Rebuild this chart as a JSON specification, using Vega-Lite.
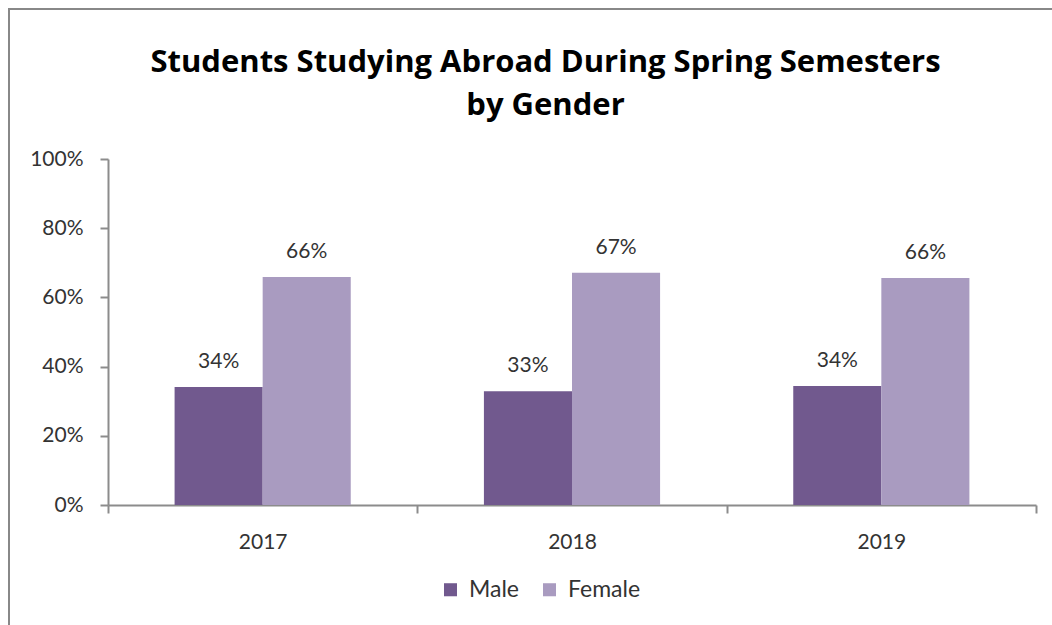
{
  "$schema": "https://vega.github.io/schema/vega-lite/v6.json",
  "autosize": "none",
  "width": 1053,
  "height": 626,
  "padding": {"left": 9, "top": 9, "right": -10, "bottom": -10},
  "background": "white",
  "title": {
    "text": ["Students Studying Abroad During Spring Semesters", "by Gender"],
    "font": "Open Sans",
    "fontSize": 31,
    "fontWeight": "bold",
    "color": "#000000",
    "lineHeight": 43,
    "anchor": "middle",
    "frame": "group",
    "dx": 10,
    "offset": -113
  },
  "data": {
    "values": [
      {"year": "2017", "gender": "Male", "share": 0.341},
      {"year": "2017", "gender": "Female", "share": 0.659},
      {"year": "2018", "gender": "Male", "share": 0.329},
      {"year": "2018", "gender": "Female", "share": 0.671},
      {"year": "2019", "gender": "Male", "share": 0.344},
      {"year": "2019", "gender": "Female", "share": 0.656}
    ]
  },
  "encoding": {
    "x": {
      "field": "year",
      "type": "nominal",
      "scale": {"range": [99, 1027], "paddingInner": 0, "paddingOuter": 0},
      "axis": {
        "title": null,
        "labelAngle": 0,
        "tickBand": "extent",
        "offset": -130,
        "labelFont": "Lato",
        "labelFontSize": 21,
        "labelColor": "#333333",
        "labelPadding": 18,
        "tickSize": 8,
        "tickColor": "#8c8c8c",
        "tickWidth": 2,
        "domainColor": "#8c8c8c",
        "domainWidth": 2
      }
    },
    "xOffset": {
      "field": "gender",
      "type": "nominal",
      "sort": ["Male", "Female"],
      "scale": {"paddingInner": 0, "paddingOuter": 0.756}
    },
    "y": {
      "field": "share",
      "type": "quantitative",
      "scale": {"domain": [0, 1], "range": [496, 150], "nice": false},
      "axis": {
        "title": null,
        "values": [0, 0.2, 0.4, 0.6, 0.8, 1],
        "format": ".0%",
        "grid": false,
        "offset": -99,
        "labelFont": "Lato",
        "labelFontSize": 21,
        "labelColor": "#333333",
        "labelPadding": 17,
        "tickSize": 8,
        "tickColor": "#8c8c8c",
        "tickWidth": 2,
        "domainColor": "#8c8c8c",
        "domainWidth": 2
      }
    }
  },
  "layer": [
    {
      "mark": {"type": "bar"},
      "encoding": {
        "color": {
          "field": "gender",
          "type": "nominal",
          "sort": ["Male", "Female"],
          "scale": {"domain": ["Male", "Female"], "range": ["#71598E", "#A99BC0"]},
          "legend": {
            "title": null,
            "orient": "none",
            "direction": "horizontal",
            "legendX": 430,
            "legendY": 569,
            "padding": 0,
            "symbolType": "square",
            "symbolSize": 170,
            "symbolStrokeWidth": 0,
            "labelFont": "Lato",
            "labelFontSize": 23,
            "labelColor": "#333333",
            "labelOffset": 7,
            "columnPadding": 18
          }
        }
      }
    },
    {
      "mark": {"type": "text", "baseline": "bottom", "dy": -15, "font": "Lato", "fontSize": 21, "color": "#333333"},
      "encoding": {
        "text": {"field": "share", "type": "quantitative", "format": ".0%"}
      }
    }
  ],
  "config": {
    "view": {"stroke": "#888888", "strokeWidth": 2}
  }
}
